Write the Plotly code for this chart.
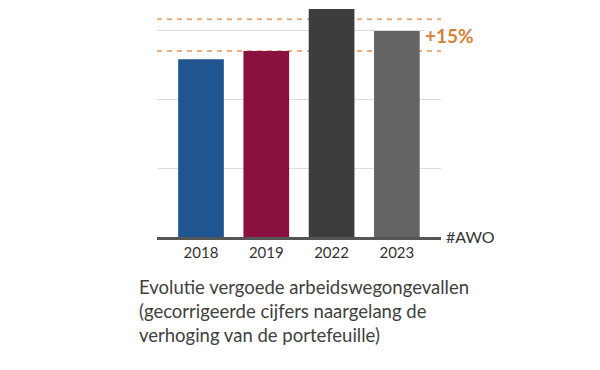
import plotly.graph_objects as go

years = ["2018", "2019", "2022", "2023"]
values = [2.59, 2.71, 3.32, 3.00]
colors = ["#1F5591", "#8A1040", "#3D3D3D", "#646464"]
ref_levels = [2.71, 3.17]
ref_label = "+15%"
unit_label = "#AWO"
caption = ["Evolutie vergoede arbeidswegongevallen",
           "(gecorrigeerde cijfers naargelang de",
           "verhoging van de portefeuille)"]

FONT = "Lato"
L, R, T, B = 157, 159, 5, 133
W, H = 600, 370
ph = H - T - B
pw = W - L - R

fig = go.Figure()
fig.add_trace(go.Bar(
    x=list(range(len(years))), y=values,
    marker=dict(color=colors, line=dict(width=0)),
    width=0.70, hoverinfo="skip",
))

for lv in ref_levels:
    fig.add_shape(type="line", xref="paper", x0=0, x1=1, yref="y", y0=lv, y1=lv,
                  line=dict(color="#E8AE80", width=2, dash="5px,5px"), layer="below")

def px_x(px):
    return (px - L) / pw

def px_y(py):
    return (H - B - py) / ph

fig.add_annotation(text="<b>" + ref_label + "</b>", xref="paper", yref="paper",
                   x=px_x(424), y=px_y(36), xanchor="left", yanchor="middle",
                   showarrow=False, bgcolor="white", borderpad=0,
                   font=dict(family=FONT, size=19, color="#D4813A"))
fig.add_annotation(text=unit_label, xref="paper", yref="paper",
                   x=px_x(444), y=px_y(236), xanchor="left", yanchor="middle",
                   showarrow=False, font=dict(family=FONT, size=16, color="#333333"))
fig.add_annotation(text="<br>".join(caption), xref="paper", yref="paper",
                   x=px_x(137), y=px_y(274), xanchor="left", yanchor="top",
                   align="left", showarrow=False,
                   font=dict(family=FONT, size=18.5, color="#404040"))

fig.update_layout(
    width=W, height=H, margin=dict(l=L, r=R, t=T, b=B),
    paper_bgcolor="white", plot_bgcolor="white", showlegend=False,
    font=dict(family=FONT),
    xaxis=dict(tickmode="array", tickvals=list(range(len(years))), ticktext=years,
               range=[-0.674, 3.676], showgrid=False, zeroline=False,
               showline=True, linecolor="#555555", linewidth=2.5, ticks="",
               tickfont=dict(family=FONT, size=15, color="#333333"), fixedrange=True),
    yaxis=dict(range=[0, ph / 68.67], dtick=1, showgrid=True, gridcolor="#DDDDDD",
               gridwidth=1, zeroline=False, showticklabels=False, fixedrange=True),
)

fig.write_html("out.html", config={"displayModeBar": False},
               post_script="document.body.style.margin='0';")
